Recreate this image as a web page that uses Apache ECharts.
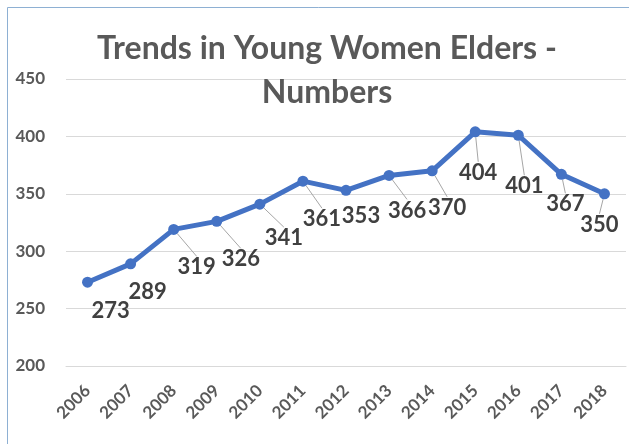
<!DOCTYPE html>
<html>
<head>
<meta charset="utf-8">
<script src="https://cdn.jsdelivr.net/npm/echarts@6/dist/echarts.min.js"></script>
<style>
html,body{margin:0;padding:0;background:#fff;}
#chart{width:629px;height:444px;}
</style>
</head>
<body>
<div id="chart"></div>
<script>
// Data
const years = ['2006','2007','2008','2009','2010','2011','2012','2013','2014','2015','2016','2017','2018'];
const elders = [273, 289, 319, 326, 341, 361, 353, 366, 370, 404, 401, 367, 350];
const yTicks = [200, 250, 300, 350, 400, 450];
const titleText = 'Trends in Young Women Elders -\nNumbers';

// Label placement offsets (style only), relative to each point
const labelShift = [[23,29],[17,28],[23,38],[24,38],[24,34],[19,38],[15,26],[18,35],[15,37],[3,41],[6,51],[4,30],[-5,31]];
const showLeader = [false,false,true,true,true,true,false,true,true,true,true,true,true];

const chart = echarts.init(document.getElementById('chart'), null, {renderer:'canvas'});
const FONT = 'Lato';
chart.setOption({
  backgroundColor: '#ffffff',
  animation: false,
  title: {
    text: titleText,
    left: 322,
    top: 22,
    textAlign: 'center',
    textStyle: {fontFamily: FONT, fontSize: 32, fontWeight: 'bold', color: '#595959', lineHeight: 44}
  },
  graphic: [{
    type: 'polyline',
    shape: {points: [[7.5, 444], [7.5, 7.5], [629, 7.5]]},
    style: {stroke: '#8eb0d3', lineWidth: 1, fill: null}
  }],
  grid: {left: 66, right: 3, top: 79, bottom: 78, containLabel: false},
  xAxis: {
    type: 'category',
    data: years,
    boundaryGap: true,
    axisLine: {show: true, lineStyle: {color: '#d9d9d9', width: 1}},
    axisTick: {show: false},
    axisLabel: {rotate: 45, margin: 22, fontFamily: FONT, fontSize: 17, fontWeight: 'bold', color: '#595959'}
  },
  yAxis: {
    type: 'value',
    min: yTicks[0],
    max: yTicks[yTicks.length - 1],
    interval: 50,
    axisLine: {show: false},
    axisTick: {show: false},
    splitLine: {lineStyle: {color: '#d9d9d9', width: 1}},
    axisLabel: {margin: 21, fontFamily: FONT, fontSize: 17, fontWeight: 'bold', color: '#595959'}
  },
  series: [{
    type: 'line',
    data: elders.map((v, i) => ({value: v, labelLine: {show: showLeader[i]}})),
    symbol: 'circle',
    symbolSize: 11,
    lineStyle: {color: '#4472c4', width: 5},
    itemStyle: {color: '#4472c4'},
    label: {
      show: true,
      position: 'inside',
      fontFamily: FONT, fontSize: 22, fontWeight: 'bold', color: '#404040'
    },
    labelLine: {show: true, lineStyle: {color: '#a6a6a6', width: 1}},
    labelLayout: function (p) {
      const s = labelShift[p.dataIndex];
      return {dx: s[0], dy: s[1]};
    }
  }]
});
</script>
</body>
</html>
